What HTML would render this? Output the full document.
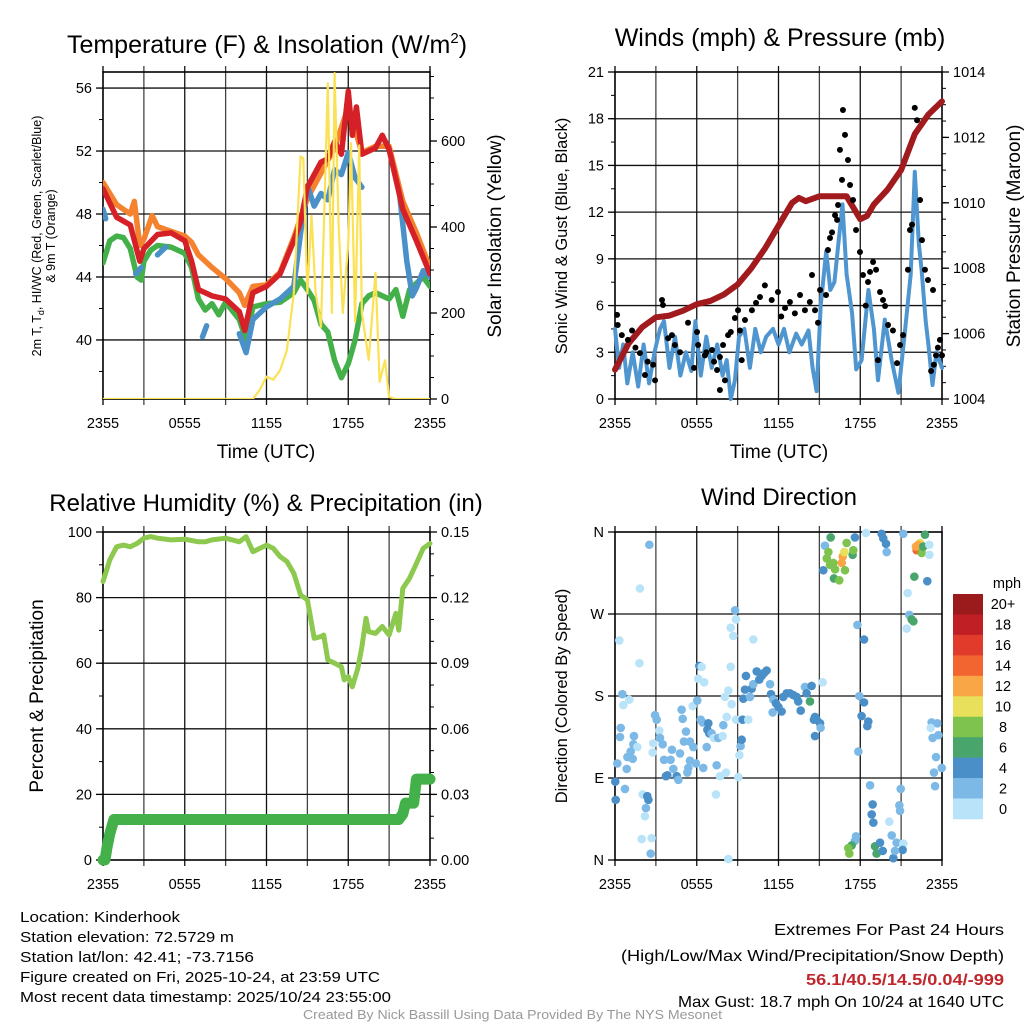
<!DOCTYPE html>
<html><head><meta charset="utf-8">
<style>
html,body{margin:0;padding:0;background:#fff;}
svg{display:block;font-family:"Liberation Sans",Arial,sans-serif;}
</style></head>
<body>
<svg id="chart" width="1024" height="1024" viewBox="0 0 1024 1024" xmlns="http://www.w3.org/2000/svg">
<rect x="0" y="0" width="1024" height="1024" fill="#fff"/>
<text x="267" y="53" font-size="25" text-anchor="middle">Temperature (F) &amp; Insolation (W/m<tspan dy="-10" font-size="15">2</tspan><tspan dy="10">)</tspan></text>
<text x="780" y="46" font-size="25" text-anchor="middle">Winds (mph) &amp; Pressure (mb)</text>
<text x="266" y="511" font-size="24" text-anchor="middle">Relative Humidity (%) &amp; Precipitation (in)</text>
<text x="779" y="505" font-size="24" text-anchor="middle">Wind Direction</text>
<text x="266" y="458" font-size="19" text-anchor="middle">Time (UTC)</text>
<text x="779" y="458" font-size="19" text-anchor="middle">Time (UTC)</text>
<text transform="translate(41,236) rotate(-90)" font-size="12.5" text-anchor="middle">2m T, T<tspan dy="3" font-size="9">d</tspan><tspan dy="-3">, HI/WC (Red, Green, Scarlet/Blue)</tspan></text>
<text transform="translate(55,236) rotate(-90)" font-size="12.5" text-anchor="middle">&amp; 9m T (Orange)</text>
<text transform="translate(501,236) rotate(-90)" font-size="19" text-anchor="middle">Solar Insolation (Yellow)</text>
<text transform="translate(567,236) rotate(-90)" font-size="16.5" text-anchor="middle">Sonic Wind &amp; Gust (Blue, Black)</text>
<text transform="translate(1020,236) rotate(-90)" font-size="19" text-anchor="middle">Station Pressure (Maroon)</text>
<text transform="translate(43,696) rotate(-90)" font-size="19" text-anchor="middle">Percent &amp; Precipitation</text>
<text transform="translate(567,696) rotate(-90)" font-size="16.5" text-anchor="middle">Direction (Colored By Speed)</text>
<g font-size="15">
<text x="20" y="922" textLength="160" lengthAdjust="spacingAndGlyphs">Location: Kinderhook</text>
<text x="20" y="942" textLength="214" lengthAdjust="spacingAndGlyphs">Station elevation: 72.5729 m</text>
<text x="20" y="962" textLength="234" lengthAdjust="spacingAndGlyphs">Station lat/lon: 42.41; -73.7156</text>
<text x="20" y="982" textLength="360" lengthAdjust="spacingAndGlyphs">Figure created on Fri, 2025-10-24, at 23:59 UTC</text>
<text x="20" y="1002" textLength="371" lengthAdjust="spacingAndGlyphs">Most recent data timestamp: 2025/10/24 23:55:00</text>
</g>
<g font-size="16">
<text x="774" y="935" textLength="230" lengthAdjust="spacingAndGlyphs">Extremes For Past 24 Hours</text>
<text x="621" y="961" textLength="383" lengthAdjust="spacingAndGlyphs">(High/Low/Max Wind/Precipitation/Snow Depth)</text>
<text x="806" y="985" textLength="198" lengthAdjust="spacingAndGlyphs" fill="#c0272d" font-weight="bold">56.1/40.5/14.5/0.04/-999</text>
<text x="678" y="1007" textLength="326" lengthAdjust="spacingAndGlyphs">Max Gust: 18.7 mph On 10/24 at 1640 UTC</text>
</g>
<text x="303" y="1019" font-size="12.5" fill="#999" textLength="419" lengthAdjust="spacingAndGlyphs">Created By Nick Bassill Using Data Provided By The NYS Mesonet</text>
</svg>
<script>
// ---------- DATA ----------
const timeTickLabels = ['2355','0555','1155','1755','2355'];
const timeTickHours = [0,6,12,18,24];
const redTimes = [0,1,2,2.7,3,4,5,6,6.5,7,8,9,10,10.4,11,12,13,14,14.5,15,16,16.5,17,17.5,18,18.3,18.6,19,20,20.5,21,22,23,24];
const redTemps = [49.6,47.8,47.3,45.0,45.8,46.7,46.8,46.3,45.0,43.2,42.8,42.6,41.8,40.6,43.0,43.4,44.2,46.3,47.5,49.7,51.3,51.5,52.6,51.8,55.8,53.0,54.8,51.8,52.2,53.0,52.1,48.3,46.3,44.2];
const orangeTimes = [0,1,2,2.3,2.7,3,3.6,4,5,6,6.5,7,8,9,10,10.4,11,12,13,14,15,16,17,18,19,20,21,22,23,24];
const orangeTemps = [50.0,48.6,48.0,48.8,46.0,46.4,47.9,47.2,46.9,46.6,46.2,45.4,44.6,43.9,43.0,42.2,43.4,43.5,44.3,46.5,49.0,50.6,52.2,54.8,51.9,52.3,52.3,48.8,46.8,44.6];
const greenTimes = [0,0.5,1,1.5,2,2.5,2.8,3,3.5,4,5,6,6.5,7,7.5,8,8.5,9,10,10.5,11,12,13,14,14.5,15,15.5,16,16.5,17,17.5,18,18.5,19,19.5,20,21,21.5,22,22.5,23,23.5,24];
const greenTemps = [44.9,46.3,46.6,46.5,45.8,44.0,43.8,45.0,45.7,46.0,45.9,45.5,44.6,42.6,41.9,42.3,41.6,42.4,41.3,40.0,42.1,42.3,42.4,43.0,43.8,43.2,42.5,41.0,40.5,38.7,37.6,38.5,40.0,42.3,42.8,43.0,42.6,43.2,41.5,43.2,43.6,44.0,43.4];
const blueTimes = [0,0.2,1,2.4,2.8,3.5,4,4.6,6.8,7.3,7.6,9.4,10,10.5,11,12,13,14,14.5,15,15.5,16,16.5,17,17.5,18,18.5,19,19.5,21.8,22.3,22.7,23,23.5,24];
const blueTemps = [48.3,47.7,null,44.2,44.6,null,45.4,45.9,null,40.2,40.9,null,40.4,39.2,41.3,42.1,42.6,43.4,46.8,49.8,48.5,49.3,48.9,50.8,50.5,51.9,50.3,49.7,null,49.0,45.0,42.8,43.3,44.4,44.0];
const solarTimes = [0,11,11.5,12,12.5,13,13.5,14,14.5,14.7,15,15.3,15.6,16,16.3,16.5,16.8,17,17.3,17.6,18,18.2,18.5,18.8,19,19.5,20,20.3,20.7,21,21.5,24];
const solarValues = [0,0,21,52,45,67,114,246,564,560,246,426,250,168,500,734,200,758,400,200,362,595,180,590,200,91,293,40,90,5,0,0];
const tempTicks = [40,44,48,52,56];
const solarTicks = [0,200,400,600];
const windTimes = [0,0.3,0.6,0.9,1.3,1.7,2.1,2.5,2.9,3.3,3.6,4.0,4.4,4.8,5.2,5.6,5.9,6.3,6.7,7.1,7.5,7.9,8.2,8.5,8.8,9.1,9.5,9.9,10.3,10.7,11.1,11.6,12.0,12.4,12.8,13.3,13.7,14.2,14.5,14.8,15.1,15.5,15.8,16.1,16.4,16.7,17.0,17.4,17.7,18.1,18.6,19.0,19.3,19.8,20.3,20.8,21.3,21.7,22.0,22.3,22.5,22.8,23.0,23.3,23.6,24];
const windSpeeds = [4.5,2,3.5,1,3,0.8,3.5,1,3,4.5,5,2,4,1.5,3,1.8,5,1.5,4,2,3.5,1.5,2.5,0,1.2,4,4.5,2,4.5,3,4,4.5,3.5,4.5,3,4.2,3.5,4.4,2,0.5,6,9.5,7,7.5,10,12.5,8,5.5,1.9,2.5,7,4.5,1.2,5.1,2.5,0.4,4.5,8,14.6,10,8.3,5,3.5,0.9,3,2];
const gustTimes = [0.15,0.2,0.5,0.95,1.25,1.5,1.83,2.2,2.4,2.8,2.94,3.45,3.52,3.9,4.18,4.4,4.77,5.36,5.8,6.02,6.1,6.6,6.7,7.12,7.27,7.49,7.7,7.7,7.93,8.07,8.3,8.5,8.8,9.03,9.17,9.3,9.54,10.05,10.35,10.64,11.0,11.5,11.96,12.2,12.48,12.84,13.2,13.58,13.94,14.3,14.46,14.68,14.9,15.05,15.49,15.63,15.78,15.93,16.15,16.3,16.37,16.51,16.66,16.73,16.88,17.1,17.25,17.47,17.69,17.98,18.2,18.4,18.57,18.72,18.94,19.16,19.3,19.45,19.67,19.82,20.04,20.4,20.7,20.92,21.14,21.5,21.65,21.8,22.0,22.17,22.39,22.53,22.75,22.97,23.2,23.34,23.4,23.56,23.7,23.85,24.0];
const gustSpeeds = [5.4,4.75,4.1,3.8,4.4,3.3,2.95,1.54,2.4,2.2,1.2,6.36,6.04,3.9,4.1,3.47,3.0,4.9,2.0,4.3,3.47,2.8,3.0,3.15,2.4,1.86,2.7,0.58,3.47,1.2,4.1,4.3,5.2,5.7,4.4,2.5,5.07,5.7,6.17,6.55,7.3,6.36,6.87,5.3,5.84,6.23,5.5,6.68,5.7,6.23,7.96,5.7,4.9,7.0,6.68,9.57,10.34,10.7,11.8,11.5,12.46,16.0,14.07,18.56,16.96,15.35,13.74,12.78,10.85,9.44,7.96,6.0,7.51,8.16,8.8,8.3,2.5,6.87,6.36,5.97,4.75,4.4,2.3,3.47,4.1,8.3,10.85,11.2,18.7,17.9,12.78,10.2,8.3,7.64,1.8,7.0,2.2,2.8,3.3,3.8,2.8];
const pressureTimes = [0,0.5,1,2,3,4,5,6,7,8,9,10,11,12,13,13.5,14,15,16,17,17.5,18,18.5,19,20,21,22,23,24];
const pressureValues = [1004.9,1005.3,1005.7,1006.2,1006.5,1006.55,1006.7,1006.9,1007.0,1007.2,1007.5,1008.0,1008.6,1009.3,1010.0,1010.15,1010.05,1010.2,1010.2,1010.2,1009.85,1009.5,1009.6,1009.95,1010.4,1011.0,1012.1,1012.7,1013.1];
const windTicks = [0,3,6,9,12,15,18,21];
const pressureTicks = [1004,1006,1008,1010,1012,1014];
const rhTimes = [0,0.5,1,1.5,2,2.5,3,3.5,4,5,6,7,7.5,8,9,10,10.5,11,12,12.5,13,13.5,14,14.5,15,15.5,16,16.2,16.5,17,17.5,17.7,18,18.3,18.7,19,19.3,19.5,20,20.5,21,21.5,21.7,22,22.5,23,23.5,24];
const rhValues = [84.9,91.5,95.5,96.0,95.5,96.5,98.1,98.6,98.1,97.6,97.8,97.0,97.0,97.6,98.1,97.0,98.6,94.0,96.0,95.0,92.5,91.0,87.4,80.8,79.3,67.6,68.1,68.6,61.0,60.0,58.9,54.9,55.9,52.8,58.4,65.0,73.7,69.6,69.1,71.2,68.6,75.2,70.1,82.8,85.9,90.4,95.0,96.5];
const precipTimes = [0,0.15,0.3,0.5,0.8,21.7,22.0,22.2,22.8,23.0,24];
const precipValues = [0,0,0.006,0.012,0.0185,0.0185,0.021,0.026,0.026,0.037,0.037];
const rhTicks = [0,20,40,60,80,100];
const precipTicks = [0,0.03,0.06,0.09,0.12,0.15];
const dirTimes = [2.52,1.83,0.32,1.79,0.54,0.61,1.05,2.94,3.06,0.42,0.37,1.39,1.35,1.64,1.15,0.91,1.30,0.17,0.86,0.02,0.73,0.05,2.03,2.37,2.45,2.27,2.20,1.96,2.69,2.62,3.25,3.30,3.50,2.81,2.76,3.60,4.18,4.08,3.84,3.74,4.53,4.28,4.77,4.65,4.89,4.97,5.21,5.06,5.50,5.75,5.38,5.31,5.50,5.94,5.70,6.04,6.19,6.36,6.11,6.55,6.29,6.43,6.85,6.78,6.92,7.09,7.26,7.58,7.90,6.73,7.46,6.48,7.71,8.15,7.41,8.32,7.95,8.20,8.07,8.32,8.56,8.49,8.81,8.88,8.49,8.68,10.15,8.88,9.05,9.22,9.13,9.30,9.37,9.42,9.54,9.61,9.78,9.91,10.03,10.15,10.40,10.59,10.76,10.93,11.13,11.38,11.45,11.62,11.81,11.57,11.99,12.23,12.35,12.60,12.84,13.09,13.33,13.45,13.63,13.94,14.06,14.43,14.31,14.68,14.60,14.80,15.05,15.09,14.68,15.24,15.41,15.29,15.83,15.66,15.54,15.78,16.02,16.15,16.07,16.46,16.64,16.71,16.83,17.00,16.88,17.44,17.49,17.61,18.42,17.79,18.28,17.93,18.28,18.10,18.59,18.52,17.86,18.72,18.91,18.84,18.96,17.69,17.61,17.37,17.12,17.20,19.57,19.69,19.89,19.94,21.16,20.97,20.87,20.92,20.13,20.31,20.67,21.16,19.08,19.20,19.45,19.65,20.43,21.11,20.55,22.75,22.39,22.26,22.14,22.09,22.51,22.63,23.07,23.07,21.97,22.92,21.48,21.60,21.77,21.90,21.41,23.24,23.66,23.17,23.73,23.31,23.56,23.98,23.41,23.49];
const dirDegrees = [346,298,241,216,182,170,176,159,154,145,135,136,127,124,119,113,111,106,100,86,78,66,72,70,66,57,48,23,24,7,142,134,127,128,118,110,121,110,93,92,92,100,117,88,165,155,141,130,130,124,101,96,109,106,169,175,213,212,199,195,154,151,150,143,139,139,134,134,136,124,104,101,92,96,72,1,148,157,179,186,171,212,274,264,255,246,242,154,91,125,115,132,154,177,187,202,154,179,188,193,207,198,202,205,208,193,182,176,172,162,168,163,179,183,183,181,179,174,164,190,183,191,174,157,154,154,150,145,136,195,345,318,354,338,331,324,326,319,309,307,326,333,338,348,318,335,340,354,359,258,242,180,173,158,152,147,119,82,61,50,41,26,21,16,13,7,358,353,347,338,358,78,60,54,42,27,19,18,15,7,19,10,2,11,10,357,348,346,340,344,337,344,346,335,311,306,293,269,264,262,254,151,150,145,137,134,113,101,96,81];
const dirSpeeds = [3,1,1,1,3,1,1,3,3,3,3,3,3,1,3,3,3,3,3,5,3,5,1,5,5,3,1,1,1,3,1,3,3,1,1,3,3,3,5,5,5,3,3,3,3,3,3,3,3,3,3,3,3,3,1,3,5,1,1,1,3,3,5,5,5,3,1,3,1,3,3,3,1,1,1,1,3,1,1,1,1,1,3,1,1,1,1,1,1,3,1,5,5,5,5,5,1,3,5,3,5,5,5,5,5,3,5,3,5,3,5,5,5,5,5,5,5,5,5,3,5,5,7,5,5,5,5,3,5,1,3,5,7,9,9,9,9,9,7,9,13,13,11,9,9,7,9,5,1,3,5,3,5,5,5,5,3,3,5,5,5,3,3,7,9,9,5,5,5,3,3,3,3,3,1,3,3,1,7,7,5,5,5,5,3,7,11,13,15,13,9,7,1,1,7,5,1,3,7,7,1,3,3,1,3,3,3,3,3,3];
const speedBinLabels = ['0','2','4','6','8','10','12','14','16','18','20+'];
const speedBinColors = ['#b9e3f9','#7db9e6','#4a8fc8','#48a56c','#7dc34d','#e8e05a','#f8a646','#f26430','#e03b2b','#c01f26','#9b1a1c'];
const dirTickLabels = ['N','E','S','W','N'];
const dirTickValues = [0,90,180,270,360];

// ---------- HELPERS ----------
const NS = 'http://www.w3.org/2000/svg';
const svg = document.getElementById('chart');
function el(tag, attrs, parent) {
  const e = document.createElementNS(NS, tag);
  for (const k in attrs) e.setAttribute(k, attrs[k]);
  (parent || svg).appendChild(e);
  return e;
}
function scale(d0, d1, r0, r1) { return v => r0 + (v - d0) * (r1 - r0) / (d1 - d0); }
function pathFrom(xs, ys, sx, sy) {
  let d = '', pen = false;
  for (let i = 0; i < xs.length; i++) {
    if (ys[i] === null) { pen = false; continue; }
    d += (pen ? 'L' : 'M') + sx(xs[i]).toFixed(1) + ',' + sy(ys[i]).toFixed(1);
    pen = true;
  }
  return d;
}
function frame(x0, x1, yT, yB, hGrid, name) {
  const g = el('g', {});
  
  
  const sx = scale(0, 24, x0, x1);
  for (let h = 3; h < 24; h += 3) {
    const gl = el('line', {x1: sx(h), x2: sx(h), y1: yT - 6, y2: yB + 6, stroke: h % 6 ? '#444' : '#111', 'stroke-width': 1.3}, g);
    
    
  }
  hGrid.forEach(y => {
    const hl = el('line', {x1: x0, x2: x1, y1: y, y2: y, stroke: '#111', 'stroke-width': 1.3}, g);
    
    
  });
  const b = el('rect', {x: x0, y: yT, width: x1 - x0, height: yB - yT, fill: 'none', stroke: '#000', 'stroke-width': 1.6}, g);
  
  
  [0, 24].forEach(h => {
    el('line', {x1: sx(h), x2: sx(h), y1: yT - 6, y2: yT, stroke: '#000', 'stroke-width': 1.3}, g);
    el('line', {x1: sx(h), x2: sx(h), y1: yB, y2: yB + 6, stroke: '#000', 'stroke-width': 1.3}, g);
  });
  timeTickHours.forEach((h, i) => {
    const t = el('text', {x: sx(h), y: yB + 29, 'font-size': 14.5, 'text-anchor': 'middle'}, g);
    t.textContent = timeTickLabels[i];
    
    
  });
  return sx;
}
function yTicks(vals, sy, x, side, minorStep, dmin, dmax, fmt, name) {
  const g = el('g', {});
  
  
  const dir = side === 'left' ? -1 : 1;
  for (let v = dmin; v <= dmax + 1e-9; v += minorStep) {
    const y = sy(v);
    el('line', {x1: x, x2: x + dir * 4, y1: y, y2: y, stroke: '#000', 'stroke-width': 1}, g);
  }
  vals.forEach(v => {
    const y = sy(v);
    el('line', {x1: x, x2: x + dir * 7, y1: y, y2: y, stroke: '#000', 'stroke-width': 1.3}, g);
    const t = el('text', {x: x + dir * 11, y: y + 5, 'font-size': 14.5, 'text-anchor': side === 'left' ? 'end' : 'start'}, g);
    t.textContent = fmt(v);
    
    
  });
}

// ---------- PANEL 1: TEMPERATURE ----------
(function () {
  const x0 = 103, x1 = 430, yT = 72, yB = 399;
  const sT = scale(36.25, 57.02, yB, yT);
  const sW = scale(0, 760.5, yB, yT);
  const sx = frame(x0, x1, yT, yB, tempTicks.map(sT), 'temperature-panel');
  yTicks(tempTicks, sT, x0, 'left', 2, 38, 56, v => String(v), 'temperature-y-axis');
  yTicks(solarTicks, sW, x1, 'right', 50, 0, 750, v => String(v), 'insolation-y-axis');
  const clip = el('clipPath', {id: 'c1'});
  el('rect', {x: x0, y: yT, width: x1 - x0, height: yB - yT}, clip);
  const g = el('g', {'clip-path': 'url(#c1)'});
  const series = [
    [orangeTimes, orangeTemps, '#f5822e', 'orange-9m-temperature-line'],
    [greenTimes, greenTemps, '#44b04a', 'green-dewpoint-line'],
    [blueTimes, blueTemps, '#4a90c9', 'blue-windchill-line'],
    [redTimes, redTemps, '#d42026', 'red-2m-temperature-line']
  ];
  series.forEach(s => {
    const p = el('path', {d: pathFrom(s[0], s[1], sx, sT), fill: 'none', stroke: s[2], 'stroke-width': 5.5, 'stroke-linejoin': 'round', 'stroke-linecap': 'round'}, g);
    
    
  });
  const y = el('path', {d: pathFrom(solarTimes, solarValues, sx, sW), fill: 'none', stroke: '#fbe154', 'stroke-width': 2.2, 'stroke-linejoin': 'round'}, g);
  
  
})();

// ---------- PANEL 2: WINDS ----------
(function () {
  const x0 = 615, x1 = 942, yT = 72, yB = 399;
  const sS = scale(0, 21, yB, yT);
  const sP = scale(1004, 1014, yB, yT);
  const sx = frame(x0, x1, yT, yB, windTicks.slice(1, -1).map(sS), 'winds-panel');
  yTicks(windTicks, sS, x0, 'left', 1.5, 0, 21, v => String(v), 'wind-speed-y-axis');
  yTicks(pressureTicks, sP, x1, 'right', 0.5, 1004, 1014, v => String(v), 'pressure-y-axis');
  const clip = el('clipPath', {id: 'c2'});
  el('rect', {x: x0 - 3, y: yT, width: x1 - x0 + 6, height: yB - yT + 3}, clip);
  const g = el('g', {'clip-path': 'url(#c2)'});
  const w = el('path', {d: pathFrom(windTimes, windSpeeds, sx, sS), fill: 'none', stroke: '#4f96d0', 'stroke-width': 4, 'stroke-linejoin': 'round', 'stroke-linecap': 'round'}, g);
  
  
  const p = el('path', {d: pathFrom(pressureTimes, pressureValues, sx, sP), fill: 'none', stroke: '#a11a1d', 'stroke-width': 6, 'stroke-linejoin': 'round', 'stroke-linecap': 'round'}, g);
  
  
  gustTimes.forEach((t, i) => {
    const c = el('circle', {cx: sx(t), cy: sS(gustSpeeds[i]), r: 3, fill: '#000'}, g);
    
    
  });
})();

// ---------- PANEL 3: HUMIDITY ----------
(function () {
  const x0 = 103, x1 = 430, yT = 532, yB = 860;
  const sR = scale(0, 100, yB, yT);
  const sQ = scale(0, 0.15, yB, yT);
  const sx = frame(x0, x1, yT, yB, rhTicks.slice(1, -1).map(sR), 'humidity-panel');
  yTicks(rhTicks, sR, x0, 'left', 10, 0, 100, v => String(v), 'humidity-y-axis');
  yTicks(precipTicks, sQ, x1, 'right', 0.01, 0, 0.15, v => v.toFixed(2), 'precipitation-y-axis');
  const r = el('path', {d: pathFrom(rhTimes, rhValues, sx, sR), fill: 'none', stroke: '#8dc84f', 'stroke-width': 5, 'stroke-linejoin': 'round', 'stroke-linecap': 'round'});
  
  
  const q = el('path', {d: pathFrom(precipTimes, precipValues, sx, sQ), fill: 'none', stroke: '#44b04a', 'stroke-width': 11, 'stroke-linejoin': 'round', 'stroke-linecap': 'round'});
  
  
})();

// ---------- PANEL 4: WIND DIRECTION ----------
(function () {
  const x0 = 615, x1 = 942, yT = 532, yB = 860;
  const sD = scale(0, 360, yB, yT);
  const sx = frame(x0, x1, yT, yB, [90, 180, 270].map(sD), 'direction-panel');
  const g0 = el('g', {});
  
  
  dirTickValues.forEach((v, i) => {
    el('line', {x1: x0, x2: x0 - 7, y1: sD(v), y2: sD(v), stroke: '#000', 'stroke-width': 1.3}, g0);
    const t = el('text', {x: x0 - 11, y: sD(v) + 5, 'font-size': 14.5, 'text-anchor': 'end'}, g0);
    t.textContent = dirTickLabels[i];
    
    
  });
  const g = el('g', {});
  
  
  dirTimes.forEach((t, i) => {
    const bin = Math.min(10, Math.floor(dirSpeeds[i] / 2));
    const c = el('circle', {cx: sx(t), cy: sD(dirDegrees[i]), r: 4.3, fill: speedBinColors[bin]}, g);
    
    
  });
  const cb = el('g', {});
  
  
  const bx = 953, bw = 30, top = 594, n = speedBinColors.length, bh = (819 - 594) / n;
  const mt = el('text', {x: 1007, y: 588, 'font-size': 14.5, 'text-anchor': 'middle'}, cb);
  mt.textContent = 'mph';
  
  
  for (let i = 0; i < n; i++) {
    const idx = n - 1 - i;
    const r = el('rect', {x: bx, y: top + i * bh, width: bw, height: bh + 0.3, fill: speedBinColors[idx]}, cb);
    
    
    const t = el('text', {x: 1003, y: top + i * bh + bh / 2 + 5, 'font-size': 14.5, 'text-anchor': 'middle'}, cb);
    t.textContent = speedBinLabels[idx];
    
    
  }
})();
</script>
</body></html>
